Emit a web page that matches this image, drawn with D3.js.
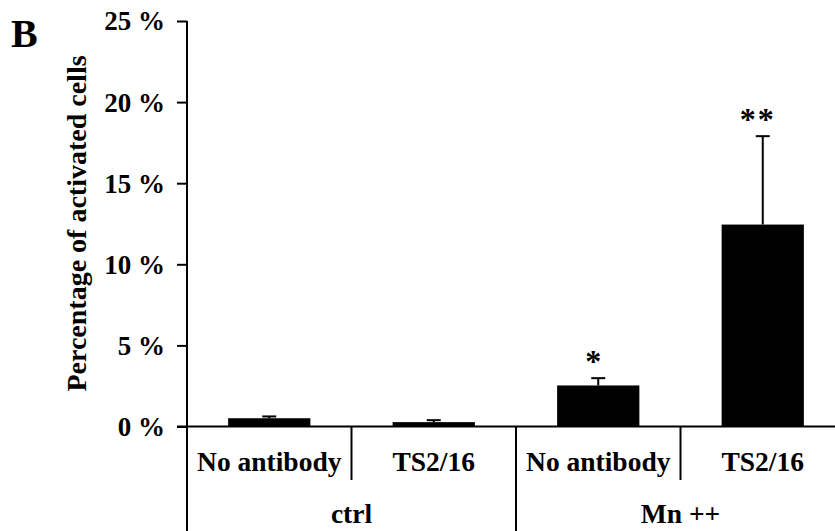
<!DOCTYPE html>
<html>
<head>
<meta charset="utf-8">
<script src="https://cdn.jsdelivr.net/npm/d3@7"></script>
<style>
  html, body { margin: 0; padding: 0; background: #fff; }
  svg { display: block; }
  text { font-family: "Liberation Serif", "Times New Roman", serif; font-weight: bold; fill: #000; }
</style>
</head>
<body>
<script>
// ---- data ----
const subLabels = ["No antibody", "TS2/16", "No antibody", "TS2/16"];
const groupLabels = ["ctrl", "Mn ++"];
const groupOf = [0, 0, 1, 1];
const values = [0.51, 0.27, 2.53, 12.45];
const errors = [0.11, 0.12, 0.45, 5.45];
const stars = ["", "", "*", "**"];
const yTicks = [0, 5, 10, 15, 20, 25];

// ---- layout ----
const W = 835, H = 531;
const svg = d3.select("body").append("svg").attr("width", W).attr("height", H);

const x0 = 187, x1 = 845;
const y = d3.scaleLinear().domain([0, 25]).range([426.5, 21]);
const x = d3.scaleBand().domain(d3.range(values.length)).range([x0, x1])
  .paddingInner(0.5).paddingOuter(0.25);
const step = x.step();

// panel letter
svg.append("text").attr("x", 11).attr("y", 47).attr("font-size", 40).text("B");

// y axis
const yAxis = d3.axisLeft(y).tickValues(yTicks).tickSize(10).tickPadding(12)
  .tickFormat(d => d + " %");
const gy = svg.append("g").attr("transform", `translate(${x0},0)`).call(yAxis);
gy.select(".domain").remove();
gy.selectAll(".tick line").attr("stroke", "#000").attr("stroke-width", 2);
gy.selectAll(".tick text").attr("font-size", 27).attr("font-family", "Liberation Serif, serif")
  .attr("font-weight", "bold").attr("dy", "0.33em");
svg.append("line").attr("x1", x0).attr("x2", x0).attr("y1", y(25)).attr("y2", H)
  .attr("stroke", "#000").attr("stroke-width", 2);

// y label
svg.append("text")
  .attr("transform", `translate(86,${(58 + 389) / 2}) rotate(-90)`)
  .attr("text-anchor", "middle").attr("font-size", 28)
  .text("Percentage of activated cells");

// bars
svg.selectAll("rect.bar").data(values).enter().append("rect")
  .attr("class", "bar")
  .attr("x", (d, i) => x(i)).attr("width", x.bandwidth())
  .attr("y", d => y(d)).attr("height", d => y(0) - y(d))
  .attr("fill", "#000");

// error bars
const capW = 14;
values.forEach((v, i) => {
  const cx = x(i) + x.bandwidth() / 2;
  svg.append("line").attr("x1", cx).attr("x2", cx).attr("y1", y(v)).attr("y2", y(v + errors[i]))
    .attr("stroke", "#000").attr("stroke-width", 2);
  svg.append("line").attr("x1", cx - capW / 2).attr("x2", cx + capW / 2)
    .attr("y1", y(v + errors[i])).attr("y2", y(v + errors[i]))
    .attr("stroke", "#000").attr("stroke-width", 2);
  if (stars[i]) {
    svg.append("text").attr("x", cx - 5).attr("y", y(v + errors[i]) - 6)
      .attr("text-anchor", "middle").attr("font-size", 32)
      .attr("font-family", "DejaVu Sans, sans-serif")
      .attr("letter-spacing", stars[i].length > 1 ? 2 : 0)
      .text(stars[i]);
  }
});

// x axis line
svg.append("line").attr("x1", x0 - 10).attr("x2", W).attr("y1", y(0)).attr("y2", y(0))
  .attr("stroke", "#000").attr("stroke-width", 2);

// separators
for (let i = 1; i < values.length; i++) {
  const sx = x0 + i * step;
  const long = groupOf[i] !== groupOf[i - 1];
  svg.append("line").attr("x1", sx).attr("x2", sx).attr("y1", y(0)).attr("y2", long ? H : 480)
    .attr("stroke", "#000").attr("stroke-width", 2);
}

// sub labels
svg.selectAll("text.sub").data(subLabels).enter().append("text")
  .attr("class", "sub")
  .attr("x", (d, i) => x(i) + x.bandwidth() / 2).attr("y", 471)
  .attr("text-anchor", "middle").attr("font-size", 27.5)
  .text(d => d);

// group labels
groupLabels.forEach((g, gi) => {
  const idx = groupOf.map((v, i) => v === gi ? i : -1).filter(i => i >= 0);
  const left = x0 + idx[0] * step, right = x0 + (idx[idx.length - 1] + 1) * step;
  svg.append("text").attr("x", (left + right) / 2).attr("y", 523)
    .attr("text-anchor", "middle").attr("font-size", 27.5).text(g);
});
</script>
</body>
</html>
